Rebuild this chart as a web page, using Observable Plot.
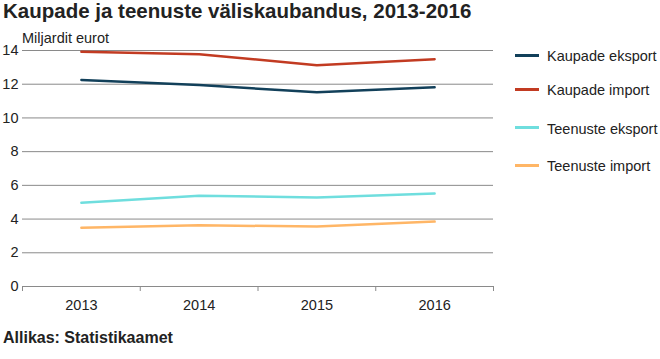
<!DOCTYPE html>
<html>
<head>
<meta charset="utf-8">
<script src="https://cdn.jsdelivr.net/npm/d3@7"></script>
<script src="https://cdn.jsdelivr.net/npm/@observablehq/plot@0.6"></script>
<style>
  html, body { margin: 0; padding: 0; background: #fff; }
  #wrap { position: relative; width: 660px; height: 359px; font-family: "Liberation Sans", Arial, sans-serif; color: #222; overflow: hidden; }
  #wrap svg { position: absolute; left: 0; top: 0; }
  .title { position: absolute; left: 3px; top: -1px; font-size: 20.5px; font-weight: bold; white-space: nowrap; }
  .unit { position: absolute; left: 22px; top: 30px; font-size: 14.5px; white-space: nowrap; }
  .caption { position: absolute; left: 3px; top: 328.5px; font-size: 16px; font-weight: bold; white-space: nowrap; }
  .legend { position: absolute; left: 515px; top: 0; }
  .legend .item { position: absolute; left: 0; white-space: nowrap; font-size: 14.5px; height: 16px; line-height: 16px; }
  .legend .sw { position: absolute; left: 0; top: 5.5px; width: 24px; height: 3px; }
  .legend .lbl { position: absolute; left: 32px; top: 0; }
</style>
</head>
<body>
<div id="wrap">
  <div class="title">Kaupade ja teenuste väliskaubandus, 2013-2016</div>
  <div class="unit">Miljardit eurot</div>
  <div class="caption">Allikas: Statistikaamet</div>
  <div class="legend" id="legend"></div>
</div>
<script>
const years = [2013, 2014, 2015, 2016];
const series = ["Kaupade eksport", "Kaupade import", "Teenuste eksport", "Teenuste import"];
const colors = ["#12405a", "#c23b22", "#6fdede", "#ffb666"];
const kaupadeEksport = [12.25, 11.95, 11.52, 11.82];
const kaupadeImport = [13.92, 13.78, 13.13, 13.48];
const teenusteEksport = [4.97, 5.38, 5.28, 5.52];
const teenusteImport = [3.48, 3.63, 3.56, 3.85];
const yTicks = [0, 2, 4, 6, 8, 10, 12, 14];
const legendTops = [48, 82, 120.5, 158];

const valuesBySeries = [kaupadeEksport, kaupadeImport, teenusteEksport, teenusteImport];
const data = [];
series.forEach((s, i) => years.forEach((y, j) => data.push({series: s, year: y, value: valuesBySeries[i][j]})));
const boundaries = [years[0] - 0.5, ...years.map(y => y + 0.5)];

const chart = Plot.plot({
  width: 660,
  height: 359,
  marginLeft: 22,
  marginRight: 167,
  marginTop: 50,
  marginBottom: 73,
  style: {fontFamily: "'Liberation Sans', Arial, sans-serif", fontSize: "14.5px", color: "#222", background: "transparent"},
  x: {domain: [boundaries[0], boundaries[boundaries.length - 1]]},
  y: {domain: [0, 14]},
  color: {domain: series, range: colors},
  marks: [
    Plot.ruleY(yTicks, {stroke: "#8a8a8a", strokeWidth: 1}),
    Plot.axisY({ticks: yTicks, tickSize: 0, tickPadding: 4, label: null, fontSize: 14.5}),
    Plot.axisX({ticks: boundaries, tickSize: 5, tickFormat: () => "", label: null, stroke: "#8a8a8a"}),
    Plot.axisX({ticks: years, tickSize: 0, tickPadding: 13, tickFormat: d => String(d), label: null, fontSize: 14.5}),
    Plot.lineY(data, {x: "year", y: "value", z: "series", stroke: "series", strokeWidth: 2.5})
  ]
});
document.getElementById("wrap").insertBefore(chart, document.getElementById("wrap").firstChild);

const legend = document.getElementById("legend");
series.forEach((s, i) => {
  const item = document.createElement("div");
  item.className = "item";
  item.style.top = legendTops[i] + "px";
  item.innerHTML = `<div class="sw" style="background:${colors[i]}"></div><span class="lbl">${s}</span>`;
  legend.appendChild(item);
});
</script>
</body>
</html>
